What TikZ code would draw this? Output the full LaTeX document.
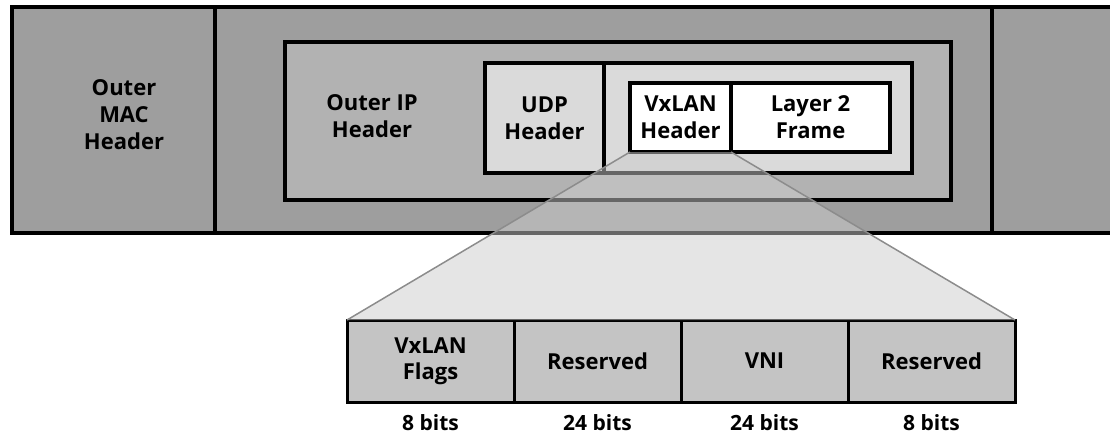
\documentclass[tikz,border=0pt]{standalone}
\usepackage{fontspec}
\setmainfont{Open Sans}
\usetikzlibrary{positioning}

\definecolor{outergray}{RGB}{158,158,158}
\definecolor{ipgray}{RGB}{178,178,178}
\definecolor{udpgray}{RGB}{218,218,218}
\definecolor{fieldgray}{RGB}{196,196,196}
\definecolor{zoomgray}{RGB}{204,204,204}
\definecolor{edgegray}{RGB}{140,140,140}

\begin{document}
\begin{tikzpicture}[x=1pt,y=1pt,yscale=-1,
  cell/.style={draw, line width=4pt, inner sep=0pt, outer sep=0pt, anchor=north west, align=center, font=\bfseries\fontsize{22}{27}\selectfont},
  label/.style={align=center, font=\bfseries\fontsize{22}{27}\selectfont},
  field/.style={draw, line width=3pt, fill=fieldgray, inner sep=0pt, outer sep=0pt, minimum width=167pt, minimum height=82pt, align=center, font=\bfseries\fontsize{22}{26}\selectfont},
  bits/.style={inner sep=0pt, font=\bfseries\fontsize{21}{26}\selectfont}]
\useasboundingbox (0,0) rectangle (1110,437);
\clip (0,0) rectangle (1110,437);

%Outer frame
\node[cell, fill=outergray, minimum width=1130pt, minimum height=226pt] (frame) at (12,7) {};
\node[cell, fill=outergray, minimum width=203pt, minimum height=226pt] (mac) at (12,7) {};
\node[label] (maclabel) at (124,115) {Outer\\MAC\\Header};
\node[cell, fill=outergray, minimum width=150pt, minimum height=226pt] (trailer) at (992,7) {};

%Outer IP
\node[cell, fill=ipgray, minimum width=666pt, minimum height=158pt] (ip) at (285,42) {};
\node[label] (iplabel) at (372,116) {Outer IP\\Header};

%UDP
\node[cell, fill=udpgray, minimum width=427pt, minimum height=110pt] (udp) at (485,63) {};
\node[cell, fill=udpgray, minimum width=119pt, minimum height=110pt] (udph) at (485,63) {UDP\\Header};

%VxLAN
\node[cell, fill=white, minimum width=101pt, minimum height=69pt] (vxh) at (630,83) {VxLAN\\Header};
\node[cell, fill=white, minimum width=159pt, minimum height=69pt] (l2) at (731,83) {Layer 2\\Frame};

%VxLAN header fields
\node[field, anchor=north west] (flags) at (347,320) {VxLAN\\Flags};
\node[field, right=0pt of flags] (res1) {Reserved};
\node[field, right=0pt of res1] (vni) {VNI};
\node[field, right=0pt of vni] (res2) {Reserved};

\node[bits, below=12pt of flags] (bflags) {8 bits};
\node[bits, below=12pt of res1] (bres1) {24 bits};
\node[bits, below=12pt of vni] (bvni) {24 bits};
\node[bits, below=12pt of res2] (bres2) {8 bits};

%Zoom
\fill[zoomgray, opacity=0.5] (vxh.south west) -- (vxh.south east) -- (res2.north east) -- (flags.north west) -- cycle;
\draw[edgegray, line width=1.5pt] (vxh.south west) -- (flags.north west);
\draw[edgegray, line width=1.5pt] (vxh.south east) -- (res2.north east);

\end{tikzpicture}
\end{document}
